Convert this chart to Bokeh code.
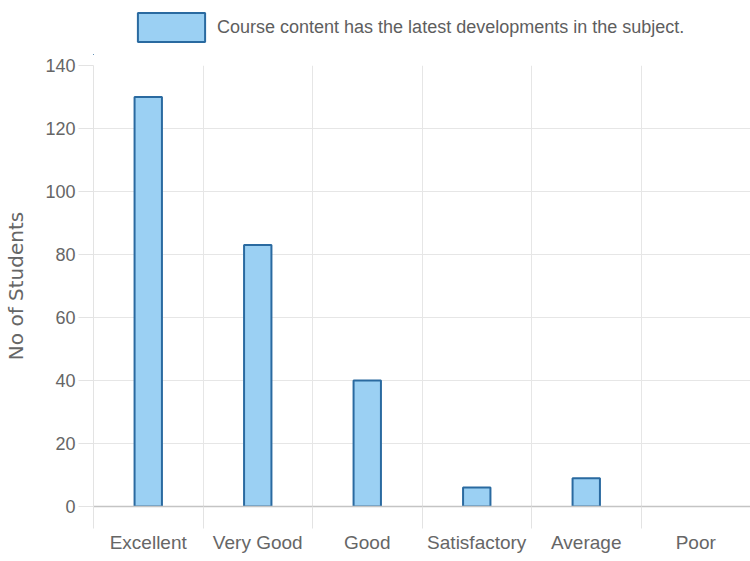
from bokeh.plotting import figure
from bokeh.layouts import column
from bokeh.models import Range1d, FixedTicker, SingleIntervalTicker, Legend, LegendItem, ColumnDataSource
from bokeh.embed import file_html
from bokeh.resources import INLINE

categories = ["Excellent", "Very Good", "Good", "Satisfactory", "Average", "Poor"]
students = [130, 83, 40, 6, 9, 0]
series_name = "Course content has the latest developments in the subject."
y_label = "No of Students"

positions = [i + 0.5 for i in range(len(categories))]
border = ["#2a6aa0" if v > 0 else None for v in students]
source = ColumnDataSource(dict(x=positions, top=students, cat=categories, border=border))

FONT = "Liberation Sans"
FILL = "#9BD0F3"
LINE = "#2a6aa0"

# ---- legend strip (own small figure on top; its ranges keep the bars out of view) ----
lg = figure(width=750, height=55, output_backend="svg", toolbar_location=None,
            x_axis_type=None, y_axis_type=None,
            x_range=Range1d(1000, 1001), y_range=Range1d(1000, 1001),
            min_border_left=0, min_border_right=0, min_border_top=0, min_border_bottom=0)
lg.outline_line_color = None
lg.xgrid.visible = False
lg.ygrid.visible = False
swatch = lg.vbar(x="x", top="top", width=0.25, source=source,
                 fill_color=FILL, line_color=LINE, line_width=2)
legend = Legend(items=[LegendItem(label=series_name, renderers=[swatch])],
                location=(36, 10), orientation="horizontal",
                glyph_width=84, glyph_height=36, label_text_font=FONT,
                label_text_font_size="18px", label_text_color="#5e5e5e",
                border_line_color=None, background_fill_alpha=0, margin=0, padding=4,
                label_standoff=4)
lg.add_layout(legend, "center")

# ---- main chart ----
p = figure(width=750, height=505, output_backend="svg", toolbar_location=None,
           x_range=Range1d(0, len(categories)), y_range=Range1d(0, 140),
           min_border_left=93, min_border_right=0, min_border_top=10, min_border_bottom=54)
p.outline_line_color = None
p.background_fill_color = "white"
p.border_fill_color = "white"

r = p.vbar(x="x", top="top", width=0.25, source=source,
           fill_color=FILL, line_color="border", line_width=2)

# x axis
xa = p.xaxis[0]
xa.ticker = FixedTicker(ticks=positions, minor_ticks=list(range(len(categories) + 1)))
xa.major_label_overrides = {pos: c for pos, c in zip(positions, categories)}
xa.major_tick_line_color = None
xa.major_tick_out = 0
xa.minor_tick_line_color = "#e3e3e3"
xa.minor_tick_out = 22
xa.minor_tick_in = 0
xa.axis_line_color = "#c4c4c4"
xa.axis_line_width = 1.5
xa.major_label_text_font = FONT
xa.major_label_text_font_size = "19px"
xa.major_label_text_color = "#666666"
xa.major_label_standoff = 3

# y axis
ya = p.yaxis[0]
ya.ticker = SingleIntervalTicker(interval=20)
ya.minor_tick_line_color = None
ya.major_tick_out = 15
ya.major_tick_in = 0
ya.major_tick_line_color = "#e3e3e3"
ya.axis_line_color = "#e3e3e3"
ya.major_label_text_font = FONT
ya.major_label_text_font_size = "18px"
ya.major_label_text_color = "#666666"
ya.major_label_standoff = 3
ya.axis_label = y_label
ya.axis_label_text_font = "DejaVu Sans"
ya.axis_label_text_font_size = "20px"
ya.axis_label_text_font_style = "normal"
ya.axis_label_text_color = "#666666"
ya.axis_label_standoff = 14

# grids
p.xgrid.ticker = FixedTicker(ticks=list(range(len(categories) + 1)))
p.xgrid.grid_line_color = "#e6e6e6"
p.ygrid.grid_line_color = "#e6e6e6"

layout = column(lg, p, spacing=0)
open("out.html", "w").write(file_html(layout, INLINE))
